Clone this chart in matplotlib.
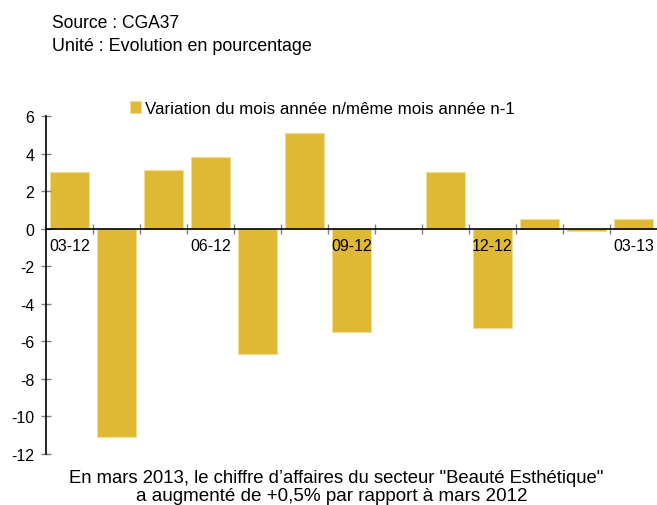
import matplotlib
matplotlib.use("Agg")
import matplotlib.pyplot as plt
import numpy as np

plt.rcParams['font.family'] = ['Liberation Sans', 'DejaVu Sans']

months = ["03-12", "04-12", "05-12", "06-12", "07-12", "08-12", "09-12",
          "10-12", "11-12", "12-12", "01-13", "02-13", "03-13"]
values = [3.0, -11.1, 3.1, 3.8, -6.7, 5.1, -5.5, 0.0, 3.0, -5.3, 0.5, -0.1, 0.5]
shown_labels = ["03-12", "06-12", "09-12", "12-12", "03-13"]
series_name = "Variation du mois année n/même mois année n-1"

W, H = 657, 506
fig = plt.figure(figsize=(W / 100, H / 100), dpi=100)
ax = fig.add_axes([46 / W, 1 - 455 / H, 1 - 46 / W, (455 - 117) / H])

x = np.arange(len(months))
ax.bar(x, values, width=0.83, color="#E0B934", edgecolor="#F2DC92",
       linewidth=0.8, label=series_name, zorder=1)

ax.set_xlim(-0.5, len(months) - 0.5)
ax.set_ylim(-12, 6)
ax.set_yticks(np.arange(-12, 7, 2))
ax.set_yticklabels([str(v) for v in range(-12, 7, 2)])

major = [months.index(m) for m in shown_labels]
ax.set_xticks(major)
ax.set_xticklabels(shown_labels)
ax.set_xticks(np.arange(0.5, len(months) - 0.5, 1), minor=True)
ax.tick_params(axis='x', which='major', length=0, pad=7, labelsize=11.5)
ax.tick_params(axis='x', which='minor', direction='inout', length=7,
               color='#808080', width=1)
ax.tick_params(axis='y', direction='inout', length=7, color='#808080',
               width=1, pad=5, labelsize=11.5)

for s in ['top', 'right']:
    ax.spines[s].set_visible(False)
ax.spines['bottom'].set_position(('data', 0))
ax.spines['bottom'].set_color('black')
ax.spines['left'].set_color('black')
ax.spines['bottom'].set_linewidth(1.2)
ax.spines['left'].set_linewidth(1.2)

leg = ax.legend(loc='lower left', bbox_to_anchor=(0.137, 1.0), frameon=False,
                prop={'size': 12.2}, handlelength=0.65, handleheight=0.65,
                handletextpad=0.25, borderaxespad=0, borderpad=0)

renderer = fig.canvas.get_renderer()


def fitted_text(px, py, s, target_w, ha='left'):
    t = fig.text(px / W, 1 - py / H, s, fontsize=12, va='baseline', ha=ha)
    w = t.get_window_extent(renderer).width
    t.set_fontsize(12 * target_w / w)
    return t


fitted_text(52, 28, "Source : CGA37", 128)
fitted_text(52, 51, "Unité : Evolution en pourcentage", 260)
fitted_text(336, 483,
            "En mars 2013, le chiffre d\u2019affaires du secteur \"Beauté Esthétique\"",
            538, ha='center')
fitted_text(332, 501, "a augmenté de +0,5% par rapport à mars 2012", 394, ha='center')

fig.savefig("out.png", dpi=100)
